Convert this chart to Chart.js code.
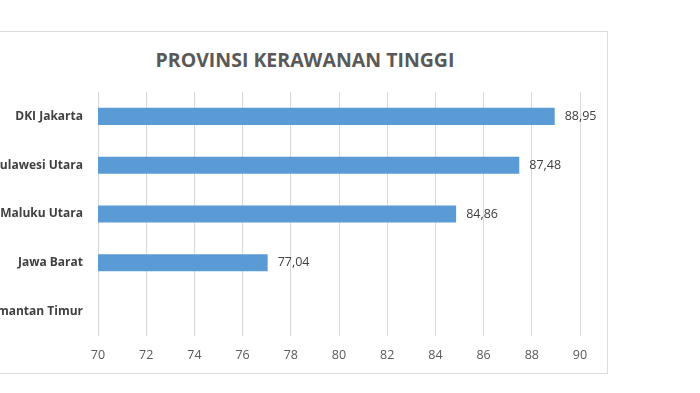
<!DOCTYPE html>
<html>
<head>
<meta charset="utf-8">
<script src="https://cdn.jsdelivr.net/npm/chart.js@4/dist/chart.umd.min.js"></script>
<style>
  html, body { margin: 0; padding: 0; width: 700px; height: 393px; overflow: hidden; background: #fff; position: relative; }
  #frame { position: absolute; left: -10px; top: 31px; width: 616px; height: 341px; border: 1px solid #dcdcdc; box-sizing: content-box; }
  #title { position: absolute; left: 105px; width: 400px; top: 46px; text-align: center; font-family: "Open Sans", sans-serif; font-weight: bold; font-size: 19.5px; color: #595959; white-space: nowrap; }
  #wrap { position: absolute; left: -60px; top: 0; width: 760px; height: 393px; }
</style>
</head>
<body>
<div id="frame"></div>
<div id="title">PROVINSI KERAWANAN TINGGI</div>
<div id="wrap"><canvas id="c" width="760" height="393"></canvas></div>
<script>
const categories = ["DKI Jakarta", "Sulawesi Utara", "Maluku Utara", "Jawa Barat", "Kalimantan Timur"];
const values = [88.95, 87.48, 84.86, 77.04, null];
const tickMin = 70;
const tickMax = 90;
const tickStep = 2;

const fmt = v => v.toFixed(2).replace('.', ',');

const dataLabels = {
  id: 'dataLabels',
  afterDatasetsDraw(chart) {
    const ctx = chart.ctx;
    const meta = chart.getDatasetMeta(0);
    ctx.save();
    ctx.font = '12.5px "Open Sans", sans-serif';
    ctx.fillStyle = '#404040';
    ctx.textAlign = 'left';
    ctx.textBaseline = 'middle';
    meta.data.forEach((el, i) => {
      const v = chart.data.datasets[0].data[i];
      if (v === null || v === undefined) return;
      ctx.fillText(fmt(v), el.x + 10, el.y);
    });
    ctx.restore();
  }
};

new Chart(document.getElementById('c'), {
  type: 'bar',
  data: {
    labels: categories,
    datasets: [{
      data: values,
      backgroundColor: '#5b9bd5',
      borderWidth: 0,
      barPercentage: 0.35,
      categoryPercentage: 1.0
    }]
  },
  options: {
    indexAxis: 'y',
    responsive: false,
    animation: false,
    layout: { padding: { left: 0, right: 120, top: 92, bottom: 18 } },
    plugins: {
      legend: { display: false },
      title: { display: false },
      tooltip: { enabled: false }
    },
    scales: {
      x: {
        min: tickMin,
        max: tickMax,
        ticks: {
          stepSize: tickStep,
          padding: 12,
          color: '#595959',
          font: { family: '"Open Sans", sans-serif', size: 12.5 }
        },
        grid: { color: '#d9d9d9', drawTicks: false, lineWidth: 1 },
        border: { display: false }
      },
      y: {
        afterFit(scale) { scale.width = 158; },
        ticks: {
          padding: 15,
          color: '#404040',
          font: { family: '"Open Sans", sans-serif', size: 12, weight: 'bold' }
        },
        grid: { display: false, drawTicks: false },
        border: { display: false }
      }
    }
  },
  plugins: [dataLabels]
});
</script>
</body>
</html>
